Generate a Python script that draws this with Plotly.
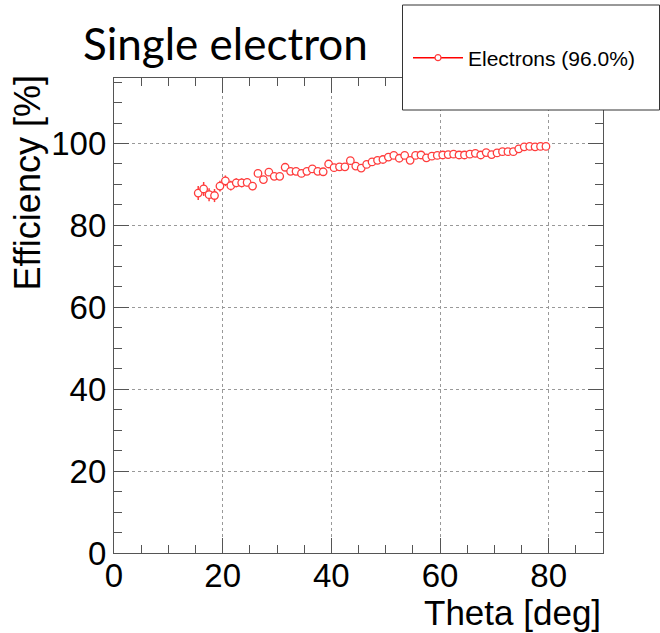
import plotly.graph_objects as go

theta = [15.5, 16.5, 17.5, 18.5, 19.5, 20.5, 21.5, 22.5, 23.5, 24.5,
         25.5, 26.5, 27.5, 28.5, 29.5, 30.5, 31.5, 32.5, 33.5, 34.5,
         35.5, 36.5, 37.5, 38.5, 39.5, 40.5, 41.5, 42.5, 43.5, 44.5,
         45.5, 46.5, 47.5, 48.5, 49.5, 50.5, 51.5, 52.5, 53.5, 54.5,
         55.5, 56.5, 57.5, 58.5, 59.5, 60.5, 61.5, 62.5, 63.5, 64.5,
         65.5, 66.5, 67.5, 68.5, 69.5, 70.5, 71.5, 72.5, 73.5, 74.5,
         75.5, 76.5, 77.5, 78.5, 79.5]

efficiency = [87.9, 88.9, 87.5, 87.3, 89.6, 90.9, 89.7, 90.4, 90.4, 90.5,
              89.6, 92.7, 91.2, 93.0, 92.0, 92.0, 94.2, 93.2, 93.2, 92.7,
              93.2, 93.8, 93.2, 93.1, 95.0, 94.1, 94.3, 94.3, 95.8, 94.5,
              94.0, 94.9, 95.5, 95.9, 96.1, 96.7, 97.1, 96.4, 97.1, 95.9,
              97.1, 97.2, 96.5, 96.9, 97.1, 97.2, 97.3, 97.4, 97.2, 97.2,
              97.4, 97.6, 97.2, 97.8, 97.3, 97.7, 98.0, 98.0, 98.0, 98.7,
              99.2, 99.3, 99.2, 99.3, 99.3]

eff_err = [1.7, 1.7, 1.6, 1.6, 1.3, 1.3, 1.2, 1.1, 1.1, 1.0,
           1.0, 0.9, 0.9, 0.9, 0.8, 0.8, 0.8, 0.8, 0.7, 0.7,
           0.7, 0.7, 0.7, 0.6, 0.6, 0.6, 0.6, 0.6, 0.6, 0.5,
           0.5, 0.5, 0.5, 0.5, 0.5, 0.5, 0.5, 0.5, 0.4, 0.4,
           0.4, 0.4, 0.4, 0.4, 0.4, 0.4, 0.4, 0.4, 0.4, 0.4,
           0.4, 0.4, 0.4, 0.3, 0.3, 0.3, 0.3, 0.3, 0.3, 0.3,
           0.3, 0.3, 0.3, 0.3, 0.3]

x_ticks = [0, 20, 40, 60, 80]
y_ticks = [0, 20, 40, 60, 80, 100]
series_name = "Electrons (96.0%)"
title_text = "Single electron"

RED = "rgb(255,60,60)"
AXIS = "#555555"
FONT = "Liberation Sans, Arial, sans-serif"

fig = go.Figure()
fig.add_trace(go.Scatter(
    x=theta, y=efficiency, mode="markers",
    marker=dict(symbol="circle", size=7.5, color="white", line=dict(width=1.3, color=RED)),
    error_y=dict(type="data", array=eff_err, visible=True, width=0, thickness=1.5, color=RED),
    showlegend=False, hoverinfo="skip",
))
fig.add_trace(go.Scatter(
    x=[None], y=[None], mode="lines+markers", name=series_name,
    line=dict(color="red", width=1.5),
    marker=dict(symbol="circle", size=6, color="white", line=dict(width=1.2, color=RED)),
))

common_axis = dict(
    showline=True, linecolor=AXIS, linewidth=1.2, mirror="allticks",
    ticks="inside", ticklen=15, tickcolor=AXIS, tickwidth=1,
    showgrid=True, gridcolor="#999999", griddash="dot", gridwidth=1,
    zeroline=False,
    tickfont=dict(family=FONT, size=33, color="black"),
    minor=dict(ticks="inside", ticklen=8, tickcolor=AXIS, dtick=5, showgrid=False),
)

fig.update_xaxes(range=[0, 90], tickvals=x_ticks, ticktext=[str(v) for v in x_ticks],
                 ticklabelstandoff=-7, **common_axis)
fig.update_yaxes(range=[0, 116], tickvals=y_ticks, ticktext=[str(v) for v in y_ticks],
                 ticklabelstandoff=0, **common_axis)

fig.update_layout(
    width=660, height=633,
    margin=dict(l=114, r=57, t=78, b=80, autoexpand=False),
    paper_bgcolor="white", plot_bgcolor="white",
    title=dict(text=title_text, x=83/660, xanchor="left", y=1-45/633, yanchor="middle",
               font=dict(family="Lato, sans-serif", size=44, color="black")),
    legend=dict(x=(408-114)/489, xanchor="left", y=(553-58)/475, yanchor="middle",
                bgcolor="rgba(0,0,0,0)", borderwidth=0, itemwidth=50,
                font=dict(family=FONT, size=21, color="black")),
    shapes=[dict(type="rect", xref="paper", yref="paper",
                 x0=(402.5-114)/489, x1=(659.5-114)/489,
                 y0=(553-110)/475, y1=(553-5)/475,
                 line=dict(color="#333333", width=1), fillcolor="white", layer="above")],
    annotations=[
        dict(text="Theta [deg]", xref="paper", yref="paper", x=1.0, y=(553-612)/475,
             xanchor="right", yanchor="middle", showarrow=False,
             font=dict(family=FONT, size=35, color="black")),
        dict(text="Efficiency [%]", xref="paper", yref="paper", x=(27-114)/489, y=(553-74)/475,
             xanchor="center", yanchor="top", textangle=-90, showarrow=False,
             font=dict(family=FONT, size=36, color="black")),
    ],
)

fig.write_html("out.html")
